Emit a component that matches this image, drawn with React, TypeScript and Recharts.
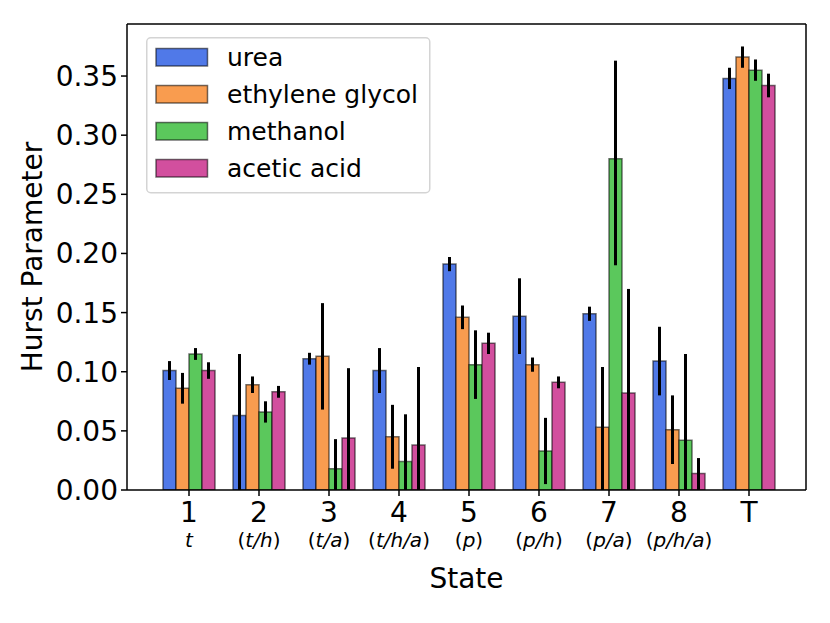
import React from "react";
import { BarChart, Bar, XAxis, YAxis, ErrorBar, Legend } from "recharts";

const states = ["1", "2", "3", "4", "5", "6", "7", "8", "T"];
const stateSubs = ["t", "t/h", "t/a", "t/h/a", "p", "p/h", "p/a", "p/h/a", ""];

// values, then [lower, upper] error per state
const ureaVals = [0.101, 0.063, 0.111, 0.101, 0.191, 0.147, 0.149, 0.109, 0.348];
const ureaLow = [0.008, 0.065, 0.005, 0.019, 0.006, 0.032, 0.006, 0.029, 0.009];
const ureaHigh = [0.008, 0.052, 0.005, 0.019, 0.006, 0.032, 0.006, 0.029, 0.009];
const glycolVals = [0.086, 0.089, 0.113, 0.045, 0.146, 0.106, 0.053, 0.051, 0.366];
const glycolLow = [0.013, 0.007, 0.045, 0.027, 0.010, 0.006, 0.053, 0.029, 0.009];
const glycolHigh = [0.013, 0.007, 0.045, 0.027, 0.010, 0.006, 0.051, 0.029, 0.009];
const methanolVals = [0.115, 0.066, 0.018, 0.024, 0.106, 0.033, 0.280, 0.042, 0.355];
const methanolLow = [0.005, 0.009, 0.025, 0.040, 0.029, 0.028, 0.090, 0.073, 0.009];
const methanolHigh = [0.005, 0.009, 0.025, 0.040, 0.029, 0.028, 0.083, 0.073, 0.009];
const aceticVals = [0.101, 0.083, 0.044, 0.038, 0.124, 0.091, 0.082, 0.014, 0.342];
const aceticLow = [0.007, 0.005, 0.059, 0.066, 0.009, 0.005, 0.088, 0.014, 0.010];
const aceticHigh = [0.007, 0.005, 0.059, 0.066, 0.009, 0.005, 0.088, 0.013, 0.010];

const yTicks = [0, 0.05, 0.1, 0.15, 0.2, 0.25, 0.3, 0.35];
const yMax = 0.394;

const series = [
  { key: "urea", name: "urea", color: "#5079e8", vals: ureaVals, low: ureaLow, high: ureaHigh },
  { key: "glycol", name: "ethylene glycol", color: "#f99c4f", vals: glycolVals, low: glycolLow, high: glycolHigh },
  { key: "methanol", name: "methanol", color: "#5bc85c", vals: methanolVals, low: methanolLow, high: methanolHigh },
  { key: "acetic", name: "acetic acid", color: "#d24f9e", vals: aceticVals, low: aceticLow, high: aceticHigh },
];

// axis starts at 0, so the lower whisker stops at the axis like matplotlib clipping
const data = states.map((s, i) => {
  const row: Record<string, any> = { state: s };
  series.forEach((se) => {
    row[se.key] = se.vals[i];
    row[se.key + "Err"] = [Math.min(se.low[i], se.vals[i]), se.high[i]];
  });
  return row;
});

const FONT = "DejaVu Sans";

function StateTick(props: any) {
  const { x, y, payload, index } = props;
  const sub = stateSubs[index] ?? "";
  return (
    <g>
      <text x={x} y={y + 24} textAnchor="middle" fontFamily={FONT} fontSize={28} fill="#000">
        {payload.value}
      </text>
      {sub && (
        <text x={x} y={y + 49} textAnchor="middle" fontFamily={FONT} fontSize={20} fill="#000">
          {index === 0 ? (
            <tspan fontStyle="italic">{sub}</tspan>
          ) : (
            <>
              <tspan>(</tspan>
              <tspan fontStyle="italic">{sub}</tspan>
              <tspan>)</tspan>
            </>
          )}
        </text>
      )}
    </g>
  );
}

function renderLegend() {
  return (
    <svg width={286} height={158}>
      <rect x={0.75} y={0.75} width={283} height={155} rx={4} fill="#fff" stroke="#d4d4d4" strokeWidth={1.5} />
      {series.map((s, i) => (
        <g key={s.key}>
          <rect x={10} y={11.5 + i * 37} width={51.5} height={17.5} fill={s.color} stroke="rgba(0,0,0,0.55)" strokeWidth={1.5} />
          <text x={81} y={29 + i * 37} fontFamily={FONT} fontSize={25} fill="#000">
            {s.name}
          </text>
        </g>
      ))}
    </svg>
  );
}

export default function App() {
  return (
    <div style={{ position: "absolute", left: 0, top: 0, background: "#fff" }}>
      <BarChart
        width={830}
        height={623}
        data={data}
        margin={{ top: 23, right: 23, bottom: 33, left: 27 }}
        barGap={0}
        barSize={13}
      >
        <XAxis
          dataKey="state"
          interval={0}
          height={100}
          padding={{ left: 27, right: 22 }}
          stroke="#000"
          strokeWidth={1.5}
          tickSize={6}
          tickMargin={2}
          tick={<StateTick />}
          label={{
            content: (p: any) => {
              const vb = p.viewBox;
              return (
                <text x={vb.x + vb.width / 2} y={588} textAnchor="middle" fontFamily={FONT} fontSize={28} fill="#000">
                  State
                </text>
              );
            },
          }}
        />
        <XAxis xAxisId="top" orientation="top" dataKey="state" height={1} tick={false} tickLine={false} stroke="#000" strokeWidth={1.5} />
        <YAxis
          width={100}
          domain={[0, yMax]}
          allowDataOverflow
          ticks={yTicks}
          tickFormatter={(v: number) => v.toFixed(2)}
          stroke="#000"
          strokeWidth={1.5}
          tickSize={6}
          tickMargin={3}
          tick={{ fontFamily: FONT, fontSize: 28, fill: "#000" }}
          label={{
            content: () => (
              <text
                x={42}
                y={257}
                transform="rotate(-90 42 257)"
                textAnchor="middle"
                fontFamily={FONT}
                fontSize={28}
                fill="#000"
              >
                Hurst Parameter
              </text>
            ),
          }}
        />
        <YAxis yAxisId="right" orientation="right" width={1} domain={[0, yMax]} tick={false} tickLine={false} stroke="#000" strokeWidth={1.5} />
        <Legend
          layout="vertical"
          align="center"
          verticalAlign="middle"
          content={renderLegend}
          wrapperStyle={{ left: 146, top: 37, width: 286, height: 158 }}
        />
        {series.map((s) => (
          <Bar
            key={s.key}
            dataKey={s.key}
            name={s.name}
            fill={s.color}
            stroke="rgba(0,0,0,0.55)"
            strokeWidth={1.5}
            isAnimationActive={false}
          >
            <ErrorBar dataKey={s.key + "Err"} width={0} stroke="#000" strokeWidth={3} direction="y" />
          </Bar>
        ))}
      </BarChart>
    </div>
  );
}
